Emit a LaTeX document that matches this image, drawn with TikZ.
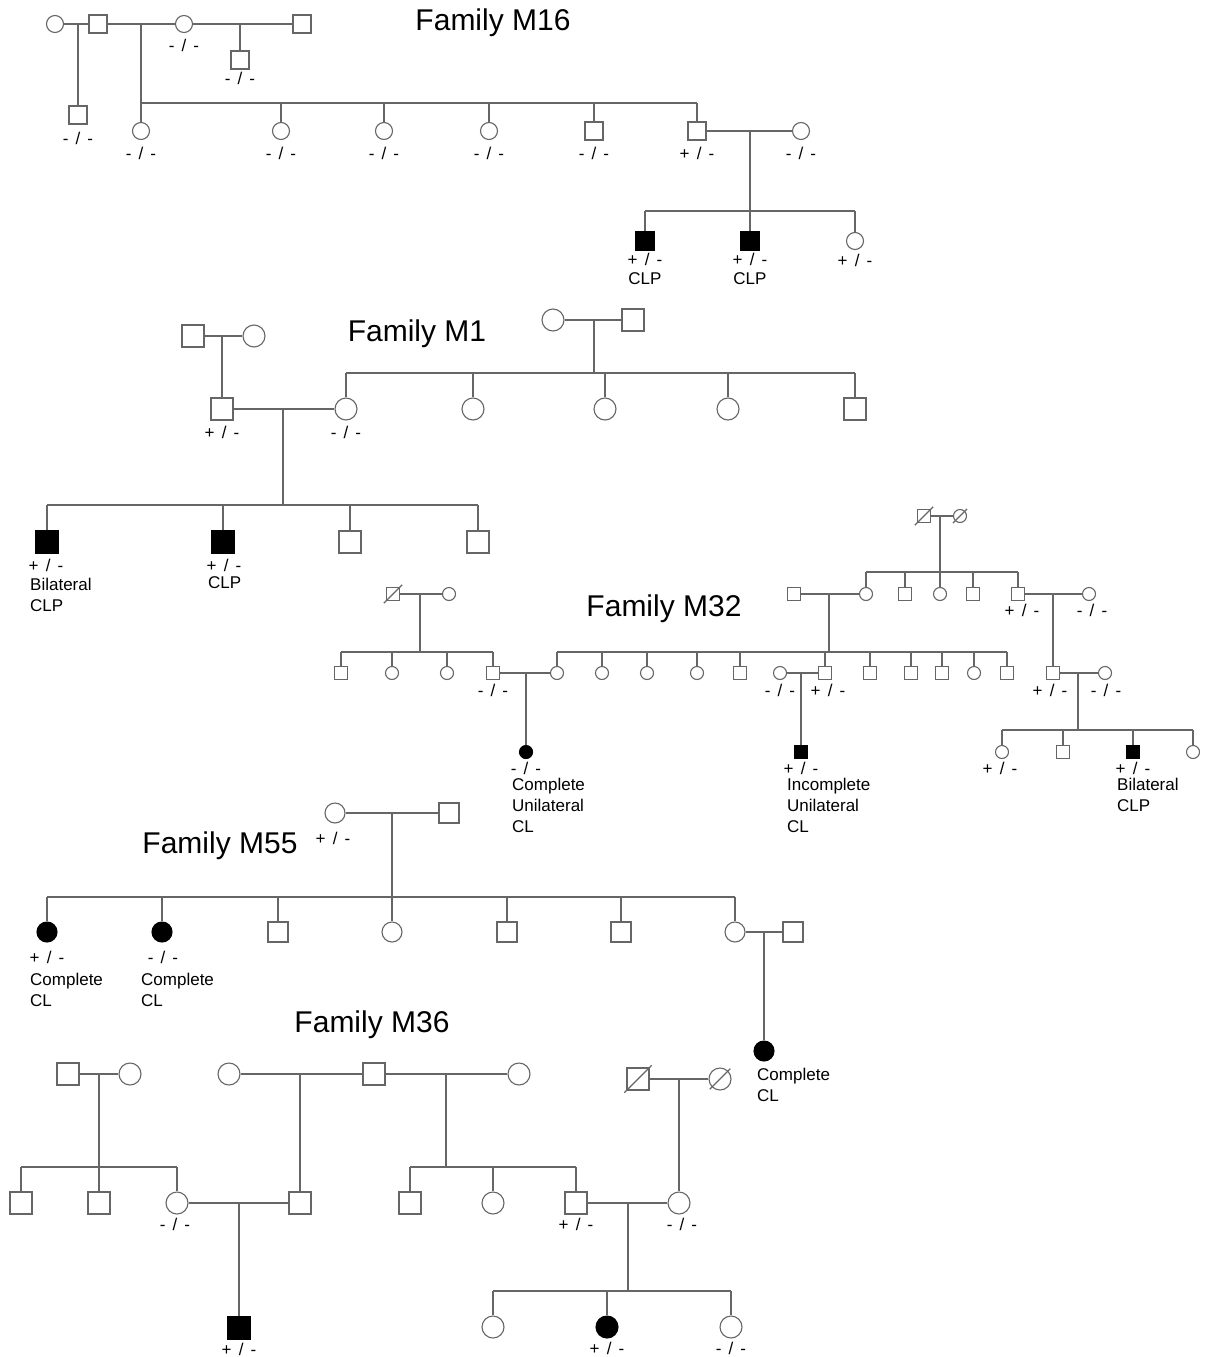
\documentclass[tikz,border=0pt]{standalone}
\usepackage{fontspec}
\setmainfont{Liberation Sans}
\newcommand\widesp{\spaceskip=0.42em\relax}
\begin{document}
\begin{tikzpicture}[x=1pt, y=-1pt,
  lin/.style={draw=black!60, line width=1.1pt},
  sq/.style={rectangle, draw=black!60, line width=1.1pt, fill=white, inner sep=0pt, minimum size=#1},
  sq/.default=22pt,
  ci/.style={circle, draw=black!60, line width=1.1pt, fill=white, inner sep=0pt, minimum size=#1},
  ci/.default=22pt,
  aff/.style={fill=black, draw=black},
  dead/.style={lin, shorten <=-3pt, shorten >=-3pt},
  gt/.style={font=\fontsize{17}{20}\selectfont, execute at begin node=\widesp, inner sep=0pt},
  note/.style={font=\fontsize{17}{21}\selectfont, align=left, inner sep=0pt, anchor=north west},
  ttl/.style={font=\fontsize{30}{36}\selectfont, inner sep=0pt}]
  \useasboundingbox (0,0) rectangle (1205,1357);

  % Family M16
  \node[ttl] (m16t) at (493,23) {Family M16};
  \node[ci=17pt] (m16a) at (55,24) {};
  \node[sq=18pt] (m16b) at (98,24) {};
  \node[ci=17pt] (m16c) at (184,24) {};
  \node[sq=18pt] (m16d) at (302,24) {};
  \node[sq=18pt] (m16e) at (78,115) {};
  \node[sq=18pt] (m16f) at (240,60) {};
  \node[ci=17pt] (m16k1) at (141,131) {};
  \node[ci=17pt] (m16k2) at (281,131) {};
  \node[ci=17pt] (m16k3) at (384,131) {};
  \node[ci=17pt] (m16k4) at (489,131) {};
  \node[sq=18pt] (m16k5) at (594,131) {};
  \node[sq=18pt] (m16k6) at (697,131) {};
  \node[ci=17pt] (m16w) at (801,131) {};
  \node[sq=18pt, aff] (m16g1) at (645,241) {};
  \node[sq=18pt, aff] (m16g2) at (750,241) {};
  \node[ci=17pt] (m16g3) at (855,241) {};
  \coordinate (m16u1) at (78,24);
  \coordinate (m16u2) at (141,24);
  \coordinate (m16u3) at (240,24);
  \coordinate (m16u4) at (750,131);
  \coordinate (m16s1) at (141,103);
  \coordinate (m16s2) at (750,211);
  \draw[lin] (m16a) -- (m16b);
  \draw[lin] (m16b) -- (m16c);
  \draw[lin] (m16c) -- (m16d);
  \draw[lin] (m16u1) -- (m16e);
  \draw[lin] (m16u3) -- (m16f);
  \draw[lin] (m16u2) -- (m16s1) -- (m16k6 |- m16s1);
  \foreach \i in {1,...,6} \draw[lin] (m16k\i |- m16s1) -- (m16k\i);
  \draw[lin] (m16k6) -- (m16w);
  \draw[lin] (m16u4) -- (m16s2);
  \draw[lin] (m16g1 |- m16s2) -- (m16g3 |- m16s2);
  \foreach \i in {1,...,3} \draw[lin] (m16g\i |- m16s2) -- (m16g\i);
  \node[gt] (m16cl) at (184,45) {- / -};
  \node[gt] (m16fl) at (240,78) {- / -};
  \node[gt] (m16el) at (78,138) {- / -};
  \node[gt] (m16k1l) at (141,153) {- / -};
  \node[gt] (m16k2l) at (281,153) {- / -};
  \node[gt] (m16k3l) at (384,153) {- / -};
  \node[gt] (m16k4l) at (489,153) {- / -};
  \node[gt] (m16k5l) at (594,153) {- / -};
  \node[gt] (m16k6l) at (697,153) {+ / -};
  \node[gt] (m16wl) at (801,153) {- / -};
  \node[gt] (m16g1l) at (645,259) {+ / -};
  \node[gt] (m16g2l) at (750,259) {+ / -};
  \node[gt] (m16g3l) at (855,260) {+ / -};
  \node[note, anchor=center] (m16g1n) at (645,279) {CLP};
  \node[note, anchor=center] (m16g2n) at (750,279) {CLP};

  % Family M1
  \node[ttl] (m1t) at (417,334) {Family M1};
  \node[sq] (m1a) at (193,336) {};
  \node[ci] (m1b) at (254,336) {};
  \node[sq] (m1h) at (222,409) {};
  \node[ci] (m1c) at (553,320) {};
  \node[sq] (m1d) at (633,320) {};
  \node[ci] (m1k1) at (346,409) {};
  \node[ci] (m1k2) at (473,409) {};
  \node[ci] (m1k3) at (605,409) {};
  \node[ci] (m1k4) at (728,409) {};
  \node[sq] (m1k5) at (855,409) {};
  \node[sq, aff] (m1g1) at (47,542) {};
  \node[sq, aff] (m1g2) at (223,542) {};
  \node[sq] (m1g3) at (350,542) {};
  \node[sq] (m1g4) at (478,542) {};
  \coordinate (m1u1) at (222,336);
  \coordinate (m1u2) at (594,320);
  \coordinate (m1u3) at (283,409);
  \coordinate (m1s1) at (594,373);
  \coordinate (m1s2) at (283,505);
  \draw[lin] (m1a) -- (m1b);
  \draw[lin] (m1u1) -- (m1h);
  \draw[lin] (m1c) -- (m1d);
  \draw[lin] (m1u2) -- (m1s1);
  \draw[lin] (m1k1 |- m1s1) -- (m1k5 |- m1s1);
  \foreach \i in {1,...,5} \draw[lin] (m1k\i |- m1s1) -- (m1k\i);
  \draw[lin] (m1h) -- (m1k1);
  \draw[lin] (m1u3) -- (m1s2);
  \draw[lin] (m1g1 |- m1s2) -- (m1g4 |- m1s2);
  \foreach \i in {1,...,4} \draw[lin] (m1g\i |- m1s2) -- (m1g\i);
  \node[gt] (m1hl) at (222,432) {+ / -};
  \node[gt] (m1k1l) at (346,432) {- / -};
  \node[gt] (m1g1l) at (46,565) {+ / -};
  \node[note] (m1g1n) at (30,578) {Bilateral\\CLP};
  \node[gt] (m1g2l) at (224,565) {+ / -};
  \node[note] (m1g2n) at (208,576) {CLP};

  % Family M32
  \node[ttl] (m32t) at (664,609) {Family M32};
  \node[sq=13pt] (m32a) at (393,594) {};
  \node[ci=13pt] (m32b) at (449,594) {};
  \node[sq=13pt] (m32n1) at (341,673) {};
  \node[ci=13pt] (m32n2) at (392,673) {};
  \node[ci=13pt] (m32n3) at (447,673) {};
  \node[sq=13pt] (m32n4) at (493,673) {};
  \node[ci=13pt] (m32o1) at (557,673) {};
  \node[ci=13pt] (m32o2) at (602,673) {};
  \node[ci=13pt] (m32o3) at (647,673) {};
  \node[ci=13pt] (m32o4) at (697,673) {};
  \node[sq=13pt] (m32o5) at (740,673) {};
  \node[sq=13pt] (m32o6) at (825,673) {};
  \node[sq=13pt] (m32o7) at (870,673) {};
  \node[sq=13pt] (m32o8) at (911,673) {};
  \node[sq=13pt] (m32o9) at (942,673) {};
  \node[ci=13pt] (m32o10) at (974,673) {};
  \node[sq=13pt] (m32o11) at (1007,673) {};
  \node[ci=13pt, aff] (m32x1) at (526,752) {};
  \node[sq=13pt] (m32e) at (924,516) {};
  \node[ci=13pt] (m32f) at (960,516) {};
  \node[ci=13pt] (m32v1) at (866,594) {};
  \node[sq=13pt] (m32v2) at (905,594) {};
  \node[ci=13pt] (m32v3) at (940,594) {};
  \node[sq=13pt] (m32v4) at (973,594) {};
  \node[sq=13pt] (m32v5) at (1018,594) {};
  \node[sq=13pt] (m32v0) at (794,594) {};
  \node[ci=13pt] (m32w) at (780,673) {};
  \node[sq=13pt, aff] (m32x2) at (801,752) {};
  \node[ci=13pt] (m32v6) at (1089,594) {};
  \node[sq=13pt] (m32y1) at (1053,673) {};
  \node[ci=13pt] (m32y2) at (1105,673) {};
  \node[ci=13pt] (m32z1) at (1002,752) {};
  \node[sq=13pt] (m32z2) at (1063,752) {};
  \node[sq=13pt, aff] (m32z3) at (1133,752) {};
  \node[ci=13pt] (m32z4) at (1193,752) {};
  \coordinate (m32u1) at (420,594);
  \coordinate (m32s1) at (420,652);
  \coordinate (m32u2) at (526,673);
  \coordinate (m32u3) at (940,516);
  \coordinate (m32s3) at (940,572);
  \coordinate (m32u4) at (829,594);
  \coordinate (m32s4) at (829,652);
  \coordinate (m32u5) at (801,673);
  \coordinate (m32u6) at (1053,594);
  \coordinate (m32u7) at (1078,673);
  \coordinate (m32s7) at (1078,730);
  \draw[lin] (m32a) -- (m32b);
  \draw[lin] (m32u1) -- (m32s1);
  \draw[lin] (m32n1 |- m32s1) -- (m32n4 |- m32s1);
  \foreach \i in {1,...,4} \draw[lin] (m32n\i |- m32s1) -- (m32n\i);
  \draw[lin] (m32n4) -- (m32o1);
  \draw[lin] (m32u2) -- (m32x1);
  \draw[lin] (m32e) -- (m32f);
  \draw[lin] (m32u3) -- (m32s3);
  \draw[lin] (m32v1 |- m32s3) -- (m32v5 |- m32s3);
  \foreach \i in {1,...,5} \draw[lin] (m32v\i |- m32s3) -- (m32v\i);
  \draw[lin] (m32v0) -- (m32v1);
  \draw[lin] (m32u4) -- (m32s4);
  \draw[lin] (m32o1 |- m32s4) -- (m32o11 |- m32s4);
  \foreach \i in {1,...,11} \draw[lin] (m32o\i |- m32s4) -- (m32o\i);
  \draw[lin] (m32w) -- (m32o6);
  \draw[lin] (m32u5) -- (m32x2);
  \draw[lin] (m32v5) -- (m32v6);
  \draw[lin] (m32u6) -- (m32y1);
  \draw[lin] (m32y1) -- (m32y2);
  \draw[lin] (m32u7) -- (m32s7);
  \draw[lin] (m32z1 |- m32s7) -- (m32z4 |- m32s7);
  \foreach \i in {1,...,4} \draw[lin] (m32z\i |- m32s7) -- (m32z\i);
  \draw[dead] (m32a.south west) -- (m32a.north east);
  \draw[dead] (m32e.south west) -- (m32e.north east);
  \draw[dead] (m32f.south west) -- (m32f.north east);
  \node[gt] (m32n4l) at (493,690) {- / -};
  \node[gt] (m32x1l) at (526,768) {- / -};
  \node[note] (m32x1n) at (512,778) {Complete\\Unilateral\\CL};
  \node[gt] (m32v5l) at (1022,610) {+ / -};
  \node[gt] (m32v6l) at (1092,610) {- / -};
  \node[gt] (m32wl) at (780,690) {- / -};
  \node[gt] (m32o6l) at (828,690) {+ / -};
  \node[gt] (m32x2l) at (801,768) {+ / -};
  \node[note] (m32x2n) at (787,778) {Incomplete\\Unilateral\\CL};
  \node[gt] (m32y1l) at (1050,690) {+ / -};
  \node[gt] (m32y2l) at (1106,690) {- / -};
  \node[gt] (m32z1l) at (1000,768) {+ / -};
  \node[gt] (m32z3l) at (1133,768) {+ / -};
  \node[note] (m32z3n) at (1117,778) {Bilateral\\CLP};

  % Family M55
  \node[ttl] (m55t) at (220,846) {Family M55};
  \node[ci=20pt] (m55a) at (335,813) {};
  \node[sq=20pt] (m55b) at (449,813) {};
  \node[ci=20pt, aff] (m55k1) at (47,932) {};
  \node[ci=20pt, aff] (m55k2) at (162,932) {};
  \node[sq=20pt] (m55k3) at (278,932) {};
  \node[ci=20pt] (m55k4) at (392,932) {};
  \node[sq=20pt] (m55k5) at (507,932) {};
  \node[sq=20pt] (m55k6) at (621,932) {};
  \node[ci=20pt] (m55k7) at (735,932) {};
  \node[sq=20pt] (m55h) at (793,932) {};
  \node[ci=20pt, aff] (m55x) at (764,1051) {};
  \coordinate (m55u1) at (392,813);
  \coordinate (m55s1) at (392,897);
  \coordinate (m55u2) at (764,932);
  \draw[lin] (m55a) -- (m55b);
  \draw[lin] (m55u1) -- (m55s1);
  \draw[lin] (m55k1 |- m55s1) -- (m55k7 |- m55s1);
  \foreach \i in {1,...,7} \draw[lin] (m55k\i |- m55s1) -- (m55k\i);
  \draw[lin] (m55k7) -- (m55h);
  \draw[lin] (m55u2) -- (m55x);
  \node[gt] (m55al) at (333,838) {+ / -};
  \node[gt] (m55k1l) at (47,957) {+ / -};
  \node[note] (m55k1n) at (30,973) {Complete\\CL};
  \node[gt] (m55k2l) at (163,957) {- / -};
  \node[note] (m55k2n) at (141,973) {Complete\\CL};
  \node[note] (m55xn) at (757,1068) {Complete\\CL};

  % Family M36
  \node[ttl] (m36t) at (372,1025) {Family M36};
  \node[sq] (m36a) at (68,1074) {};
  \node[ci] (m36b) at (130,1074) {};
  \node[sq] (m36c1) at (21,1203) {};
  \node[sq] (m36c2) at (99,1203) {};
  \node[ci] (m36c3) at (177,1203) {};
  \node[ci] (m36d) at (229,1074) {};
  \node[sq] (m36e) at (374,1074) {};
  \node[ci] (m36f) at (519,1074) {};
  \node[sq] (m36g) at (300,1203) {};
  \node[sq] (m36h1) at (410,1203) {};
  \node[ci] (m36h2) at (493,1203) {};
  \node[sq] (m36h3) at (576,1203) {};
  \node[sq, aff] (m36k) at (239,1328) {};
  \node[sq] (m36p) at (638,1079) {};
  \node[ci] (m36q) at (720,1079) {};
  \node[ci] (m36w) at (679,1203) {};
  \node[ci] (m36i1) at (493,1327) {};
  \node[ci, aff] (m36i2) at (607,1327) {};
  \node[ci] (m36i3) at (731,1327) {};
  \coordinate (m36u1) at (99,1074);
  \coordinate (m36s1) at (99,1167);
  \coordinate (m36u2) at (300,1074);
  \coordinate (m36u3) at (446,1074);
  \coordinate (m36s3) at (446,1167);
  \coordinate (m36u4) at (239,1203);
  \coordinate (m36u5) at (679,1079);
  \coordinate (m36u6) at (628,1203);
  \coordinate (m36s6) at (628,1291);
  \draw[lin] (m36a) -- (m36b);
  \draw[lin] (m36u1) -- (m36s1);
  \draw[lin] (m36c1 |- m36s1) -- (m36c3 |- m36s1);
  \foreach \i in {1,...,3} \draw[lin] (m36c\i |- m36s1) -- (m36c\i);
  \draw[lin] (m36d) -- (m36e);
  \draw[lin] (m36e) -- (m36f);
  \draw[lin] (m36u2) -- (m36g);
  \draw[lin] (m36u3) -- (m36s3);
  \draw[lin] (m36h1 |- m36s3) -- (m36h3 |- m36s3);
  \foreach \i in {1,...,3} \draw[lin] (m36h\i |- m36s3) -- (m36h\i);
  \draw[lin] (m36c3) -- (m36g);
  \draw[lin] (m36u4) -- (m36k);
  \draw[lin] (m36p) -- (m36q);
  \draw[lin] (m36u5) -- (m36w);
  \draw[lin] (m36h3) -- (m36w);
  \draw[lin] (m36u6) -- (m36s6);
  \draw[lin] (m36i1 |- m36s6) -- (m36i3 |- m36s6);
  \foreach \i in {1,...,3} \draw[lin] (m36i\i |- m36s6) -- (m36i\i);
  \draw[dead] (m36p.south west) -- (m36p.north east);
  \draw[dead] (m36q.south west) -- (m36q.north east);
  \node[gt] (m36c3l) at (175,1224) {- / -};
  \node[gt] (m36h3l) at (576,1224) {+ / -};
  \node[gt] (m36wl) at (682,1224) {- / -};
  \node[gt] (m36kl) at (239,1349) {+ / -};
  \node[gt] (m36i2l) at (607,1348) {+ / -};
  \node[gt] (m36i3l) at (731,1348) {- / -};
\end{tikzpicture}
\end{document}
